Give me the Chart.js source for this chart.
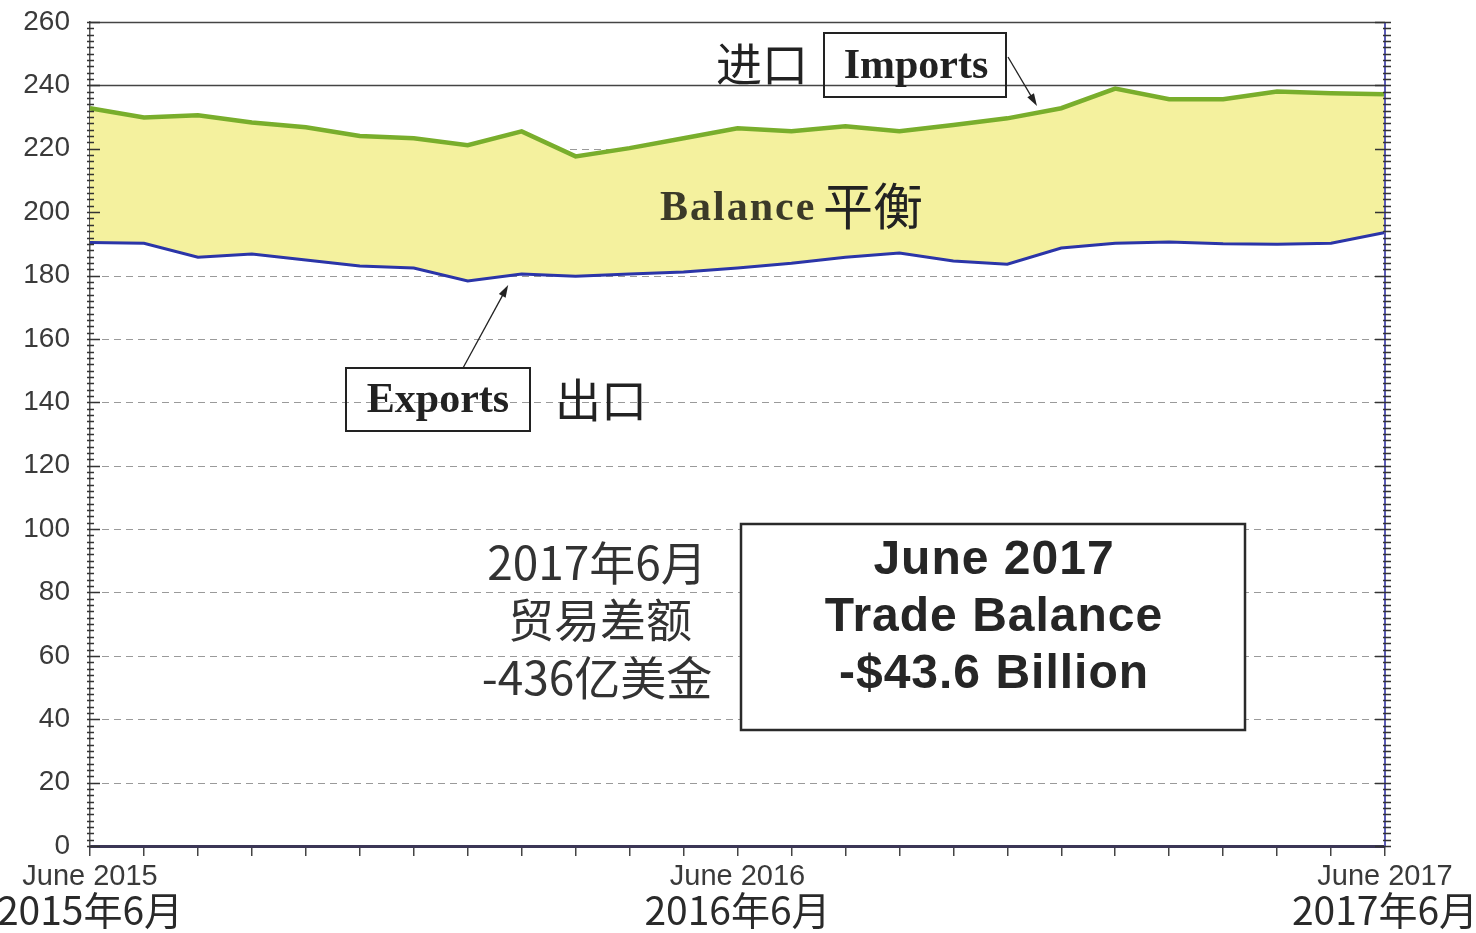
<!DOCTYPE html>
<html>
<head>
<meta charset="utf-8">
<script src="https://cdn.jsdelivr.net/npm/chart.js@4/dist/chart.umd.min.js"></script>
<style>
  html, body { margin: 0; padding: 0; background: #fff; }
  #wrap { width: 1476px; height: 933px; }
</style>
</head>
<body>
<div id="wrap"><canvas id="tradeChart" width="1476" height="933"></canvas></div>
<script>
// monthly values, June 2015 .. June 2017 (billions of dollars)
const months = ['2015-06','2015-07','2015-08','2015-09','2015-10','2015-11','2015-12',
  '2016-01','2016-02','2016-03','2016-04','2016-05','2016-06','2016-07','2016-08',
  '2016-09','2016-10','2016-11','2016-12','2017-01','2017-02','2017-03','2017-04',
  '2017-05','2017-06'];
const imports = [232.8, 229.9, 230.6, 228.3, 226.8, 224.0, 223.3, 221.1, 225.5, 217.6,
  220.2, 223.3, 226.5, 225.5, 227.1, 225.5, 227.5, 229.6, 232.8, 239.0, 235.6, 235.6,
  238.1, 237.5, 237.2];
const exports = [190.4, 190.2, 185.8, 186.8, 184.9, 183.0, 182.4, 178.3, 180.5, 179.8,
  180.5, 181.1, 182.4, 183.9, 185.8, 187.1, 184.6, 183.6, 188.7, 190.2, 190.6, 190.0,
  189.9, 190.2, 193.6];

// tick labels
const tickIndex = [0, 12, 24];
const tickEn = ['June 2015', 'June 2016', 'June 2017'];
const tickZh = ['2015年6月', '2016年6月', '2017年6月'];
const yMin = 0, yMax = 260, yStep = 20, yMinorStep = 2;

const sans = '"Liberation Sans", Arial, sans-serif';
const serif = '"Liberation Serif", "Times New Roman", serif';
const cjk = '"Noto Sans CJK SC", sans-serif';

const arrow = (ctx, x1, y1, x2, y2) => {
  const a = Math.atan2(y2 - y1, x2 - x1);
  ctx.beginPath();
  ctx.moveTo(x1, y1);
  ctx.lineTo(x2 - 8 * Math.cos(a), y2 - 8 * Math.sin(a));
  ctx.stroke();
  ctx.beginPath();
  ctx.moveTo(x2, y2);
  ctx.lineTo(x2 - 13 * Math.cos(a - 0.3), y2 - 13 * Math.sin(a - 0.3));
  ctx.lineTo(x2 - 13 * Math.cos(a + 0.3), y2 - 13 * Math.sin(a + 0.3));
  ctx.closePath();
  ctx.fill();
}

const decor = {
  id: 'decor',
  beforeDatasetsDraw(chart) {
    const { ctx, chartArea: ca, scales: { y } } = chart;
    ctx.save();
    for (let v = yStep; v <= yMax; v += yStep) {
      const py = Math.round(y.getPixelForValue(v)) + 0.5;
      ctx.beginPath();
      if (v >= 240) {
        ctx.strokeStyle = '#444';
        ctx.lineWidth = 1.5;
        ctx.setLineDash([]);
      } else {
        ctx.strokeStyle = '#9a9a9a';
        ctx.lineWidth = 1;
        ctx.setLineDash([7, 5]);
      }
      ctx.moveTo(ca.left, py);
      ctx.lineTo(ca.right, py);
      ctx.stroke();
    }
    ctx.restore();
  },
  afterDatasetsDraw(chart) {
    const { ctx, chartArea: ca, scales: { x, y } } = chart;
    ctx.save();
    // right axis
    ctx.strokeStyle = '#5b5bb5';
    ctx.lineWidth = 2;
    ctx.beginPath();
    ctx.moveTo(ca.right, ca.top);
    ctx.lineTo(ca.right, ca.bottom);
    ctx.stroke();
    // minor ticks, both sides
    ctx.strokeStyle = '#333';
    ctx.lineWidth = 1.3;
    for (let v = yMin; v <= yMax; v += yMinorStep) {
      const py = Math.round(y.getPixelForValue(v)) + 0.5;
      const major = v % yStep === 0;
      ctx.beginPath();
      ctx.moveTo(ca.left - 3, py);
      ctx.lineTo(ca.left + (major ? 10 : 4), py);
      ctx.moveTo(ca.right - (major ? 10 : 2), py);
      ctx.lineTo(ca.right + 6, py);
      ctx.stroke();
    }

    ctx.fillStyle = '#222';
    ctx.strokeStyle = '#222';
    ctx.textAlign = 'center';
    ctx.textBaseline = 'middle';

    // chinese x labels
    ctx.fillStyle = '#2a2a2a';
    ctx.font = '39px ' + cjk;
    tickIndex.forEach((i, k) => {
      ctx.fillText(tickZh[k], x.getPixelForTick(i), 910);
    });

    // imports label
    ctx.fillStyle = '#222';
    ctx.font = '46px ' + cjk;
    ctx.fillText('进口', 762, 64);
    ctx.lineWidth = 2;
    ctx.strokeRect(824, 33, 182, 64);
    ctx.font = 'bold 42px ' + serif;
    ctx.fillText('Imports', 916, 67);
    ctx.lineWidth = 1.3;
    arrow(ctx, 1008, 57, x.getPixelForValue(17.55), y.getPixelForValue(233.5));

    // balance label
    ctx.textAlign = 'left';
    ctx.fillStyle = '#3b3a28';
    ctx.font = 'bold 42px ' + serif;
    ctx.letterSpacing = '2px';
    ctx.fillText('Balance', 660, 209);
    ctx.letterSpacing = '0px';
    ctx.font = '50px ' + cjk;
    ctx.fillStyle = '#222';
    ctx.fillText('平衡', 823, 206);
    ctx.textAlign = 'center';

    // exports label
    ctx.lineWidth = 2;
    ctx.strokeRect(346, 368, 184, 63);
    ctx.font = 'bold 42px ' + serif;
    ctx.fillText('Exports', 438, 401);
    ctx.font = '46px ' + cjk;
    ctx.fillText('出口', 601, 400);
    ctx.lineWidth = 1.3;
    arrow(ctx, 463, 368, x.getPixelForValue(7.75), y.getPixelForValue(177));

    // chinese summary
    ctx.fillStyle = '#333';
    ctx.font = '46px ' + cjk;
    ctx.fillText('2017年6月', 597, 563);
    ctx.fillText('贸易差额', 600, 620);
    ctx.fillText('-436亿美金', 597, 678);

    // english summary box
    ctx.fillStyle = '#fff';
    ctx.fillRect(741, 524, 504, 206);
    ctx.lineWidth = 2.5;
    ctx.strokeStyle = '#2a2a2a';
    ctx.strokeRect(741, 524, 504, 206);
    ctx.fillStyle = '#262626';
    ctx.font = 'bold 48px ' + sans;
    ctx.letterSpacing = '1px';
    ctx.fillText('June 2017', 994, 561);
    ctx.fillText('Trade Balance', 994, 618);
    ctx.fillText('-$43.6 Billion', 994, 675);
    ctx.restore();
  }
};

new Chart(document.getElementById('tradeChart'), {
  type: 'line',
  data: {
    labels: months,
    datasets: [
      {
        label: 'Exports',
        data: exports,
        borderColor: '#2b35a8',
        borderWidth: 3,
        pointRadius: 0,
        fill: false
      },
      {
        label: 'Imports',
        data: imports,
        borderColor: '#79ae2c',
        borderWidth: 4.5,
        pointRadius: 0,
        backgroundColor: 'rgb(244,241,158)',
        fill: '-1'
      }
    ]
  },
  options: {
    responsive: false,
    animation: false,
    devicePixelRatio: 1,
    layout: { padding: { top: 22, right: 91, left: 0, bottom: 0 } },
    plugins: { legend: { display: false }, tooltip: { enabled: false } },
    scales: {
      x: {
        offset: false,
        grid: { drawOnChartArea: false, drawTicks: true, tickLength: 10, color: '#444', lineWidth: 1.5 },
        border: { display: true, color: '#3b3656', width: 3 },
        ticks: {
          autoSkip: false, maxRotation: 0, minRotation: 0, padding: 4,
          color: '#3a3a3a',
          font: { family: sans, size: 29 },
          callback: (v, i) => {
            const k = tickIndex.indexOf(i);
            return k >= 0 ? tickEn[k] : '';
          }
        },
        afterFit: (s) => { s.height = 87; s.paddingLeft = 0; s.paddingRight = 0; }
      },
      y: {
        min: yMin,
        max: yMax,
        grid: { display: false, drawTicks: false },
        border: { display: true, color: '#555', width: 1.5 },
        ticks: { stepSize: yStep, padding: 20, color: '#3a3a3a', font: { family: sans, size: 28 } },
        afterFit: (s) => { s.width = 90; s.paddingTop = 0; s.paddingBottom = 0; }
      }
    }
  },
  plugins: [decor]
});
</script>
</body>
</html>
